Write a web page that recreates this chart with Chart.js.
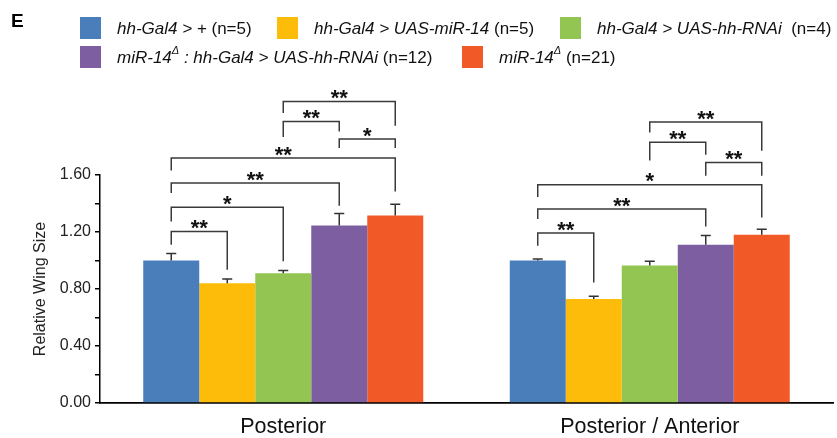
<!DOCTYPE html>
<html>
<head>
<meta charset="utf-8">
<script src="https://cdn.jsdelivr.net/npm/chart.js@4.4.1/dist/chart.umd.min.js"></script>
<style>
  html, body { margin: 0; padding: 0; background: #fff; }
  #wrap { width: 837px; height: 438px; position: relative; }
</style>
</head>
<body>
<div id="wrap"><canvas id="c"></canvas></div>
<script>
// ---------- data ----------
const categories = ['Posterior', 'Posterior / Anterior'];
const seriesNames = ['hh-Gal4 > + (n=5)', 'hh-Gal4 > UAS-miR-14 (n=5)', 'hh-Gal4 > UAS-hh-RNAi (n=4)',
  'miR-14Δ : hh-Gal4 > UAS-hh-RNAi (n=12)', 'miR-14Δ (n=21)'];
const controlVals   = [1.00, 1.00];
const miR14OEVals   = [0.84, 0.73];
const hhRNAiVals    = [0.91, 0.965];
const mutRNAiVals   = [1.245, 1.11];
const mutantVals    = [1.315, 1.18];
const controlErr    = [0.05, 0.01];
const miR14OEErr    = [0.03, 0.02];
const hhRNAiErr     = [0.02, 0.03];
const mutRNAiErr    = [0.085, 0.065];
const mutantErr     = [0.08, 0.04];
const yTicks = [0, 0.4, 0.8, 1.2, 1.6];
// significance: [category, barA, barB, line level, left leg end, right leg end, label]
const significance = [
  [0, 0, 1, 1.204, 1.111, 0.935, '**'],
  [0, 0, 2, 1.373, 1.274, 0.994, '*'],
  [0, 0, 3, 1.544, 1.474, 1.385, '**'],
  [0, 0, 4, 1.719, 1.632, 1.485, '**'],
  [0, 2, 3, 1.976, 1.867, 1.906, '**'],
  [0, 3, 4, 1.853, 1.789, 1.789, '*'],
  [0, 2, 4, 2.116, 2.035, 1.946, '**'],
  [1, 0, 1, 1.193, 1.104, 0.846, '**'],
  [1, 0, 3, 1.361, 1.291, 1.239, '**'],
  [1, 0, 4, 1.532, 1.446, 1.302, '*'],
  [1, 3, 4, 1.688, 1.595, 1.595, '**'],
  [1, 2, 3, 1.829, 1.702, 1.742, '**'],
  [1, 2, 4, 1.972, 1.899, 1.771, '**']
];

// ---------- styling ----------
const colors = ['#4A7EBB', '#FDBC0A', '#92C551', '#7D5FA1', '#F15A27'];
const FONT = 'Liberation Sans, Arial, sans-serif';
const values = [controlVals, miR14OEVals, hhRNAiVals, mutRNAiVals, mutantVals];
const errors = [controlErr, miR14OEErr, hhRNAiErr, mutRNAiErr, mutantErr];

// legend label pieces (italic genotype + plain count, Δ superscript)
function legendParts(name) {
  const m = name.match(/^(.*?)(\s+\(n=\d+\))$/);
  const geno = m[1], count = m[2];
  const parts = [];
  const segs = geno.split('Δ');
  segs.forEach((s, i) => {
    if (s) parts.push({ t: s, italic: true });
    if (i < segs.length - 1) parts.push({ t: 'Δ', italic: true, sup: true });
  });
  parts.push({ t: count, italic: false });
  return parts;
}

const overlay = {
  id: 'overlay',
  afterDatasetsDraw(chart) {
    const ctx = chart.ctx;
    const y = chart.scales.y;
    // error bars
    ctx.save();
    ctx.strokeStyle = '#333';
    ctx.lineWidth = 1.5;
    chart.data.datasets.forEach((ds, di) => {
      const meta = chart.getDatasetMeta(di);
      meta.data.forEach((bar, j) => {
        const top = y.getPixelForValue(ds.data[j] + errors[di][j]);
        ctx.beginPath();
        ctx.moveTo(bar.x, bar.y);
        ctx.lineTo(bar.x, top);
        ctx.moveTo(bar.x - 5, top);
        ctx.lineTo(bar.x + 5, top);
        ctx.stroke();
      });
    });
    // significance brackets
    ctx.strokeStyle = '#3a3a3a';
    ctx.lineWidth = 1.5;
    ctx.fillStyle = '#111';
    ctx.font = 'bold 22px ' + FONT;
    ctx.textAlign = 'center';
    ctx.textBaseline = 'alphabetic';
    significance.forEach(([cat, a, b, lvl, la, lb, lab]) => {
      const xa = chart.getDatasetMeta(a).data[cat].x;
      const xb = chart.getDatasetMeta(b).data[cat].x;
      const yl = y.getPixelForValue(lvl);
      ctx.beginPath();
      ctx.moveTo(xa, y.getPixelForValue(la));
      ctx.lineTo(xa, yl);
      ctx.lineTo(xb, yl);
      ctx.lineTo(xb, y.getPixelForValue(lb));
      ctx.stroke();
      ctx.fillText(lab, (xa + xb) / 2, yl - 9 + 12.6);
    });
    ctx.restore();
  },
  afterDraw(chart) {
    const ctx = chart.ctx;
    ctx.save();
    // panel letter
    ctx.fillStyle = '#000';
    ctx.font = 'bold 19px ' + FONT;
    ctx.textBaseline = 'alphabetic';
    ctx.fillText('E', 11, 27);
    // legend
    const rows = [[0, 1, 2], [3, 4]];
    const rowX = [[80, 277, 560], [80, 462]];
    const rowY = [28, 57];
    ctx.textBaseline = 'middle';
    rows.forEach((row, ri) => {
      row.forEach((i, k) => {
        const x = rowX[ri][k];
        ctx.fillStyle = colors[i];
        ctx.fillRect(x, rowY[ri] - 11, 21, 22);
        let tx = x + 37;
        ctx.fillStyle = '#111';
        legendParts(seriesNames[i]).forEach(p => {
          const size = p.sup ? 11 : 17;
          ctx.font = (p.italic ? 'italic ' : '') + size + 'px ' + FONT;
          let t = p.t;
          if (i === 2 && !p.italic) t = ' ' + t; // wider gap before (n=4) as in figure
          ctx.fillText(t, tx, rowY[ri] + (p.sup ? -6 : 1));
          tx += ctx.measureText(t).width;
        });
      });
    });
    ctx.restore();
  }
};

new Chart(document.getElementById('c'), {
  type: 'bar',
  data: {
    labels: categories,
    datasets: values.map((v, i) => ({
      label: seriesNames[i],
      data: v,
      backgroundColor: colors[i],
      borderWidth: 0,
      barPercentage: 1,
      categoryPercentage: 0.764
    }))
  },
  options: {
    responsive: true,
    maintainAspectRatio: false,
    animation: false,
    layout: { padding: { top: 175, right: 4, left: 0, bottom: 0 } },
    plugins: { legend: { display: false }, tooltip: { enabled: false } },
    scales: {
      x: {
        afterFit(s) { s.height = 35; },
        grid: { display: true, drawOnChartArea: false, drawTicks: false },
        border: { display: true, color: '#000', width: 1.8 },
        ticks: { color: '#111', font: { family: FONT, size: 21.5 }, padding: 11 }
      },
      y: {
        min: 0, max: 1.6,
        afterFit(s) { s.width = 100; },
        afterBuildTicks(s) {
          const t = [];
          for (let k = 0; k < yTicks.length; k++) {
            t.push({ value: yTicks[k] });
            if (k < yTicks.length - 1) t.push({ value: (yTicks[k] + yTicks[k + 1]) / 2 });
          }
          s.ticks = t;
        },
        grid: { display: true, drawOnChartArea: false, drawTicks: true, tickLength: 5, color: '#000', lineWidth: 1.5 },
        border: { display: true, color: '#000', width: 1.5 },
        ticks: {
          autoSkip: false,
          color: '#222',
          font: { family: FONT, size: 16 },
          padding: 4,
          callback: v => yTicks.some(t => Math.abs(t - v) < 1e-6) ? v.toFixed(2) : ''
        },
        title: { display: true, text: 'Relative Wing Size', color: '#222', font: { family: FONT, size: 16 }, padding: { top: 31, bottom: 0 } }
      }
    }
  },
  plugins: [overlay]
});
</script>
</body>
</html>
